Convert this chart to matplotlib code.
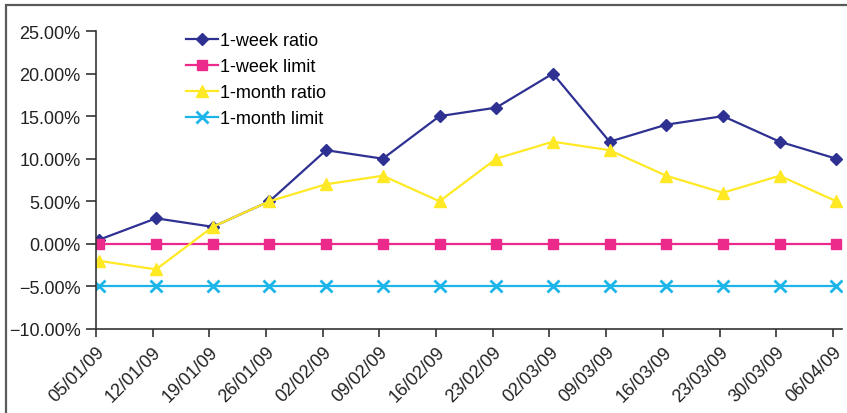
import matplotlib
matplotlib.use("Agg")
import matplotlib.pyplot as plt
from matplotlib.patches import Rectangle
from matplotlib.ticker import FuncFormatter

plt.rcParams['font.family'] = ['Liberation Sans', 'DejaVu Sans']

dates = ["05/01/09", "12/01/09", "19/01/09", "26/01/09", "02/02/09", "09/02/09", "16/02/09",
         "23/02/09", "02/03/09", "09/03/09", "16/03/09", "23/03/09", "30/03/09", "06/04/09"]
week_ratio = [0.5, 3, 2, 5, 11, 10, 15, 16, 20, 12, 14, 15, 12, 10]
week_limit = [0] * 14
month_ratio = [-2, -3, 2, 5, 7, 8, 5, 10, 12, 11, 8, 6, 8, 5]
month_limit = [-5] * 14
yticks = [-10, -5, 0, 5, 10, 15, 20, 25]

W, H = 847, 414
fig = plt.figure(figsize=(W / 100, H / 100), dpi=100)
fig.patches.append(Rectangle((6 / W, -0.1), 1.2, (1 - 6 / H) + 0.1, transform=fig.transFigure,
                             fill=False, edgecolor='#5a5a5a', linewidth=1.6))

ax = fig.add_axes([96 / W, 1 - 330 / H, (842 - 96) / W, (330 - 32) / H])
x = list(range(len(dates)))
xs = [v + 0.06 for v in x]

ax.plot(xs, week_ratio, color='#2E3192', marker='D', markersize=6, linewidth=1.6, label='1-week ratio')
ax.plot(xs, week_limit, color='#EC2A8C', marker='s', markersize=7, linewidth=1.6, label='1-week limit')
ax.plot(xs, month_ratio, color='#FFE925', marker='^', markersize=8, linewidth=1.6, label='1-month ratio')
ax.plot(xs, month_limit, color='#1CB5EA', marker='x', markersize=8, markeredgewidth=2, linewidth=1.6,
        label='1-month limit')

ax.set_xlim(0, 13.16)
ax.set_ylim(-10, 25)
ax.set_yticks(yticks)
ax.yaxis.set_major_formatter(FuncFormatter(lambda v, p: f"{v:.2f}%".replace('-', '\u2212')))
ax.set_xticks(x)
ax.set_xticklabels(dates, rotation=45, ha='right', rotation_mode='anchor')
ax.tick_params(axis='both', labelsize=13, color='#333333', labelcolor='#222222', width=1.2)
ax.tick_params(axis='x', length=6, pad=4)
ax.tick_params(axis='y', length=7, pad=4)
for s in ['top', 'right']:
    ax.spines[s].set_visible(False)
for s in ['left', 'bottom']:
    ax.spines[s].set_color('#333333')
    ax.spines[s].set_linewidth(1.2)

ax.legend(loc='upper left', bbox_to_anchor=(0.111, 1.02), frameon=False, fontsize=13,
          handlelength=1.75, handletextpad=0.15, labelspacing=0.5, borderaxespad=0)

fig.savefig('out.png', dpi=100)
